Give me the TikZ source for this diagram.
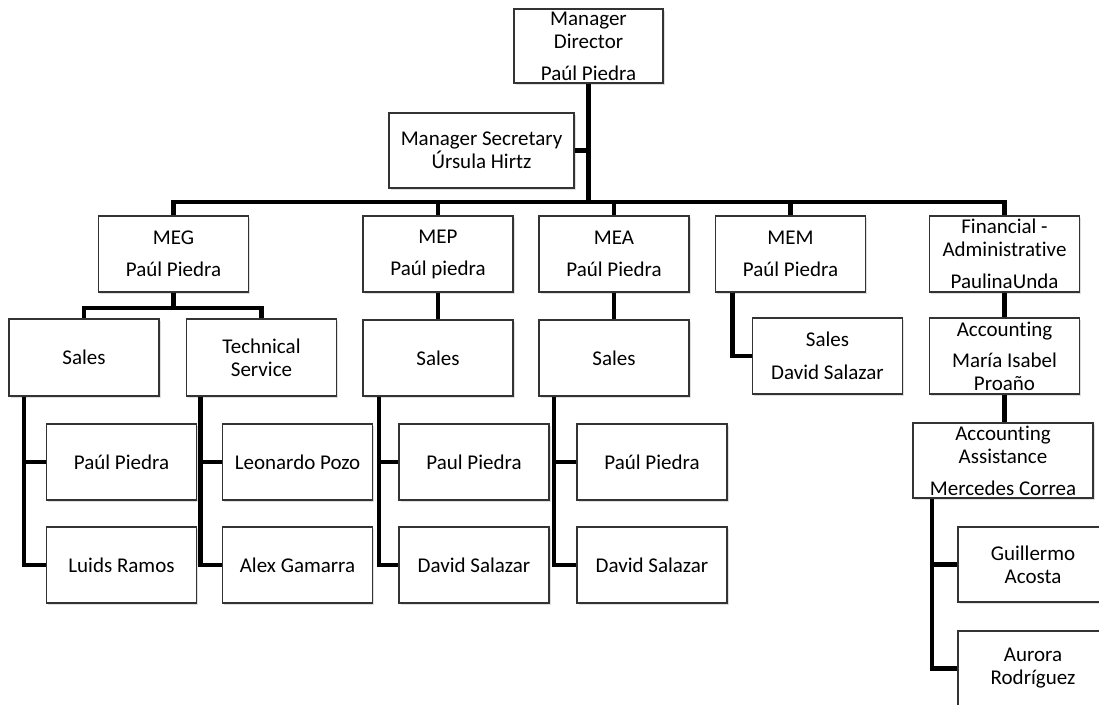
\documentclass[tikz,border=0pt]{standalone}
\usepackage{fontspec}
\setmainfont{Carlito}[Ligatures=NoCommon]
\usepackage{tikz}
\usetikzlibrary{positioning, shadows}

\begin{document}
\begin{tikzpicture}[
    x=1pt, y=-1pt,
    unit/.style={rectangle, draw=black!80, line width=1.6pt, fill=white, minimum width=150pt, minimum height=76pt, inner sep=0pt, align=center, font=\fontsize{21}{23}\selectfont, drop shadow={shadow xshift=1.5pt, shadow yshift=-2pt, opacity=0.25}},
    link/.style={line width=4.5pt, black}
]
\clip (0,0) rectangle (1099,704);

% Top
\node[unit, minimum width=149pt, minimum height=74pt] (md) at (588.5,46) {Manager\\Director\\[9pt]Paúl Piedra};
\node[unit, minimum width=185pt, minimum height=75pt] (sec) at (481.5,150.5) {Manager Secretary\\Úrsula Hirtz};
\coordinate (bus) at (0,202);

% Departments
\node[unit] (meg) at (173.5,254) {MEG\\[9pt]Paúl Piedra};
\node[unit] (mep) at (438,254) {MEP\\[9pt]Paúl piedra};
\node[unit] (mea) at (614,254) {MEA\\[9pt]Paúl Piedra};
\node[unit] (mem) at (790.5,254) {MEM\\[9pt]Paúl Piedra};
\node[unit] (fin) at (1004.5,254) {Financial -\\Administrative\\[9pt]PaulinaUnda};

% Areas
\node[unit, minimum height=77pt] (megs) at (84,357.5) {Sales};
\node[unit, minimum height=77pt] (megt) at (261.5,357.5) {Technical\\Service};
\node[unit] (meps) at (438,358) {Sales};
\node[unit] (meas) at (614,358) {Sales};
\node[unit] (mems) at (827.5,356) {Sales\\[10pt]David Salazar};
\node[unit] (acc) at (1004.5,356) {Accounting\\[8pt]María Isabel\\Proaño};
\node[unit, minimum width=180pt, minimum height=75pt] (asst) at (1003,460.5) {Accounting\\Assistance\\[9pt]Mercedes Correa};

% Staff
\node[unit] (megs1) at (121.5,462) {Paúl Piedra};
\node[unit] (megs2) at (121.5,565) {Luids Ramos};
\node[unit] (megt1) at (297.5,462) {Leonardo Pozo};
\node[unit] (megt2) at (297.5,565) {Alex Gamarra};
\node[unit] (meps1) at (474,462) {Paul Piedra};
\node[unit] (meps2) at (474,565) {David Salazar};
\node[unit] (meas1) at (652,462) {Paúl Piedra};
\node[unit] (meas2) at (652,565) {David Salazar};
\node[unit, minimum height=75pt] (asst1) at (1033,564.5) {Guillermo\\Acosta};
\node[unit, minimum height=75pt] (asst2) at (1033,668.5) {Aurora\\Rodríguez};

% Links
\draw[link] (md.south) -- (md.south |- bus);
\draw[link] (sec.east) -- (sec.east -| md.south);
\draw[link] (meg.north) -- (meg.north |- bus) -| (fin.north);
\draw[link] (mep.north) -- (mep.north |- bus);
\draw[link] (mea.north) -- (mea.north |- bus);
\draw[link] (mem.north) -- (mem.north |- bus);

% MEG
\draw[link] (meg.south) -- ++(0,15) coordinate (megbus);
\draw[link] (megs.north) |- (megbus) -| (megt.north);
\draw[link] ([xshift=16pt]megs.south west) |- (megs1.west);
\draw[link] ([xshift=16pt]megs.south west) |- (megs2.west);
\draw[link] ([xshift=15pt]megt.south west) |- (megt1.west);
\draw[link] ([xshift=15pt]megt.south west) |- (megt2.west);

% MEP, MEA, MEM
\draw[link] (mep) -- (meps);
\draw[link] ([xshift=17pt]meps.south west) |- (meps1.west);
\draw[link] ([xshift=17pt]meps.south west) |- (meps2.west);
\draw[link] (mea) -- (meas);
\draw[link] ([xshift=16pt]meas.south west) |- (meas1.west);
\draw[link] ([xshift=16pt]meas.south west) |- (meas2.west);
\draw[link] ([xshift=18pt]mem.south west) |- (mems.west);

% Financial
\draw[link] (fin) -- (acc);
\draw[link] (acc.south) -- (acc.south |- asst.north);
\draw[link] ([xshift=20pt]asst.south west) |- (asst1.west);
\draw[link] ([xshift=20pt]asst.south west) |- (asst2.west);
\end{tikzpicture}
\end{document}
